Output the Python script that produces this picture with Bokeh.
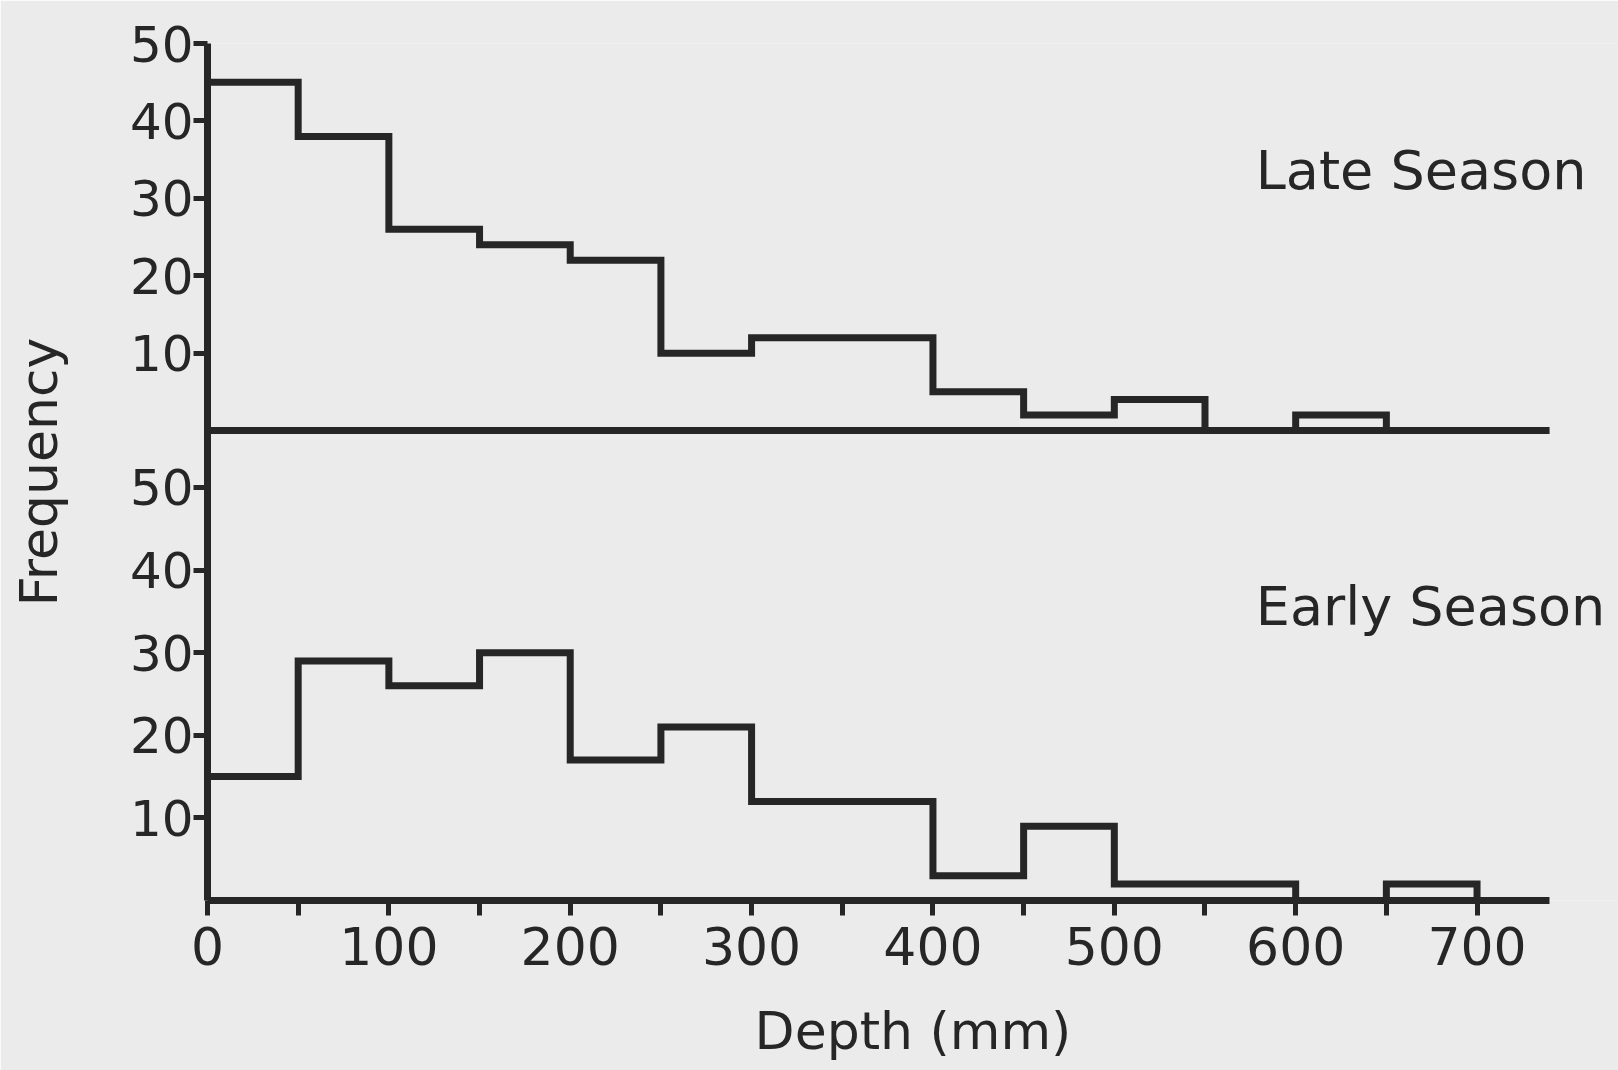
from bokeh.plotting import figure
from bokeh.models import Range1d, FixedTicker, Label
from bokeh.embed import file_html
from bokeh.resources import INLINE

# ---- data (frequency per 50 mm depth bin) ----
DEPTH_EDGES = [0, 50, 100, 150, 200, 250, 300, 350, 400, 450, 500, 550, 600, 650, 700]
LATE_SEASON = [45, 38, 26, 24, 22, 10, 12, 12, 5, 2, 4, 0, 2, 0]
EARLY_SEASON = [15, 29, 26, 30, 17, 21, 12, 12, 3, 9, 2, 2, 0, 2]
X_TICKS = [0, 100, 200, 300, 400, 500, 600, 700]
X_MINOR_TICKS = [50, 150, 250, 350, 450, 550, 650]
Y_TICKS = [10, 20, 30, 40, 50]
DEPTH_AXIS_MAX = 740

INK = "#262626"
PAPER = "#ebebeb"
FONT = "DejaVu Sans"

# ranges: bottom panel uses the main y range, top panel an extra range
main_y = Range1d(0, 103.75)
top_y = Range1d(-60.7, 50)

p = figure(width=1618, height=1070, output_backend="svg", toolbar_location=None,
           x_range=Range1d(0, 778), y_range=main_y,
           min_border_left=207, min_border_right=0, min_border_top=43, min_border_bottom=170)
p.extra_y_ranges = {"top": top_y}

p.background_fill_color = PAPER
p.border_fill_color = PAPER
p.outline_line_color = None
p.grid.visible = False

# --- histograms as step outlines ---
lw = 7
p.step(x=DEPTH_EDGES, y=LATE_SEASON + [0], mode="after", line_color=INK, line_width=lw,
       line_join="miter", y_range_name="top")
p.step(x=DEPTH_EDGES, y=EARLY_SEASON + [0], mode="after", line_color=INK, line_width=lw,
       line_join="miter")
# baseline of the upper panel
p.segment(x0=[0], y0=[0], x1=[DEPTH_AXIS_MAX], y1=[0], line_color=INK, line_width=lw,
          y_range_name="top")

# --- x axis ---
xa = p.xaxis[0]
xa.ticker = FixedTicker(ticks=X_TICKS, minor_ticks=X_MINOR_TICKS)
xa.bounds = (0, DEPTH_AXIS_MAX)
xa.axis_line_color = INK
xa.axis_line_width = lw
xa.major_tick_in = 0
xa.major_tick_out = 15
xa.minor_tick_in = 0
xa.minor_tick_out = 15
xa.major_tick_line_color = INK
xa.minor_tick_line_color = INK
xa.major_tick_line_width = 5
xa.minor_tick_line_width = 5
xa.major_label_standoff = 11
xa.major_label_text_font = FONT
xa.major_label_text_font_size = "52px"
xa.major_label_text_color = INK
xa.axis_label = "Depth (mm)"
xa.axis_label_text_font = FONT
xa.axis_label_text_font_size = "52px"
xa.axis_label_text_font_style = "normal"
xa.axis_label_text_color = INK
xa.axis_label_standoff = 33


# --- y axis: one line carrying the ticks of both panels ---
def top_to_main(v):
    frac = (v - top_y.start) / (top_y.end - top_y.start)
    return round(main_y.start + frac * (main_y.end - main_y.start), 4)


top_tick_pos = [top_to_main(v) for v in Y_TICKS]
ya = p.yaxis[0]
ya.ticker = FixedTicker(ticks=Y_TICKS + top_tick_pos, minor_ticks=[])
ya.major_label_overrides = {pos: str(v) for pos, v in zip(top_tick_pos, Y_TICKS)}
ya.axis_line_color = INK
ya.axis_line_width = lw
ya.major_tick_in = 0
ya.major_tick_out = 14
ya.minor_tick_line_color = None
ya.major_tick_line_color = INK
ya.major_tick_line_width = 5
ya.major_label_standoff = 0
ya.major_label_text_font = FONT
ya.major_label_text_font_size = "50px"
ya.major_label_text_color = INK
ya.axis_label = "Frequency"
ya.axis_label_text_font = FONT
ya.axis_label_text_font_size = "52px"
ya.axis_label_text_font_style = "normal"
ya.axis_label_text_color = INK
ya.axis_label_standoff = 58

# --- panel labels ---
p.add_layout(Label(x=578, y=33.6, y_range_name="top", text="Late Season",
                   text_font=FONT, text_font_size="54px", text_color=INK,
                   text_baseline="alphabetic"))
p.add_layout(Label(x=578, y=35.6, text="Early Season",
                   text_font=FONT, text_font_size="54px", text_color=INK,
                   text_baseline="alphabetic"))

open("out.html", "w").write(file_html(p, INLINE))
